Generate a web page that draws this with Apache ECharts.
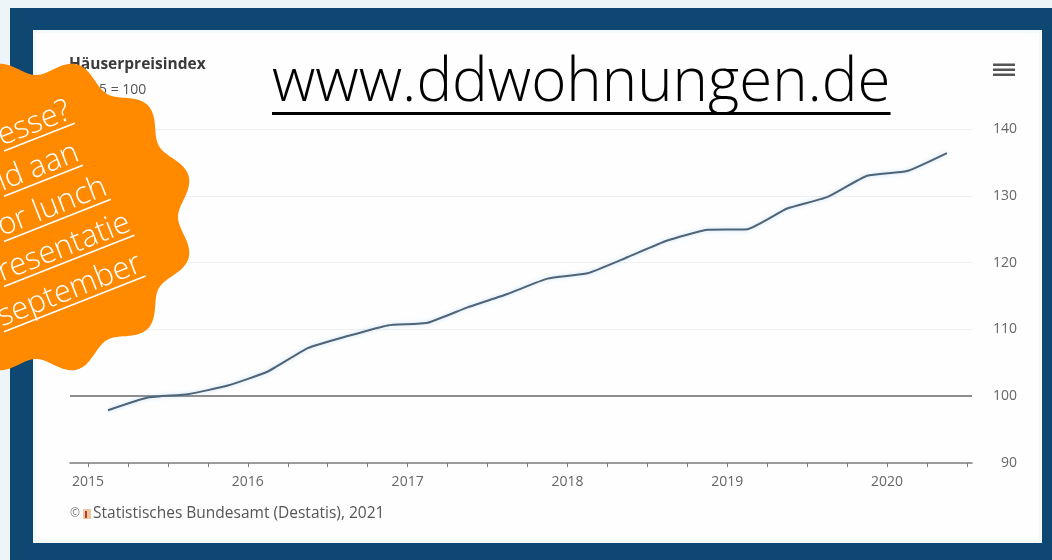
<!DOCTYPE html>
<html>
<head>
<meta charset="utf-8">
<script src="https://cdn.jsdelivr.net/npm/echarts@6/dist/echarts.min.js"></script>
<style>
html,body{margin:0;padding:0;background:#eef5f8;}
#chart{width:1052px;height:560px;}
</style>
</head>
<body>
<div id="chart"></div>
<script>
// ---------- data ----------
const periods = [
  '2015 Q1','2015 Q2','2015 Q3','2015 Q4',
  '2016 Q1','2016 Q2','2016 Q3','2016 Q4',
  '2017 Q1','2017 Q2','2017 Q3','2017 Q4',
  '2018 Q1','2018 Q2','2018 Q3','2018 Q4',
  '2019 Q1','2019 Q2','2019 Q3','2019 Q4',
  '2020 Q1','2020 Q2'
];
const houseIndex = [
  97.9, 99.8, 100.3, 101.6,
  103.7, 107.2, 109.0, 110.6,
  111.0, 113.3, 115.3, 117.6,
  118.4, 120.8, 123.3, 124.9,
  125.0, 128.1, 129.8, 133.0,
  133.7, 136.4
];
const yearLabels = [2015, 2016, 2017, 2018, 2019, 2020];
const yTickValues = [90, 100, 110, 120, 130, 140];
const baselineValue = 100;
const titleText = 'Häuserpreisindex';
const subtitleText = '2015 = 100';
const sourceText = 'Statistisches Bundesamt (Destatis), 2021';
const urlText = 'www.ddwohnungen.de';
const badgeLines = ['esse?', 'ld aan', 'or lunch', 'resentatie', 'september'];

// ---------- helpers ----------
const FONT = '"Open Sans", "Noto Sans", sans-serif';
function periodToX(p) {
  const parts = p.split(' Q');
  return Number(parts[0]) + (Number(parts[1]) - 0.5) / 4;
}
const seriesData = periods.map((p, i) => [periodToX(p), houseIndex[i]]);
const quarterTicks = [];
for (let y = yearLabels[0]; y <= yearLabels[yearLabels.length - 1]; y++) {
  for (let q = 0; q < 4; q++) {
    const v = y + q / 4;
    if (v <= 2020.5) quarterTicks.push(v);
  }
}

const measureCtx = document.createElement('canvas').getContext('2d');
function textWidth(str, font) { measureCtx.font = font; return measureCtx.measureText(str).width; }

// badge (decorative scalloped circle)
const badgeCx = 36, badgeCy = 217, badgeR = 150, badgeA = 8, badgeN = 12, badgePhase = 15 * Math.PI / 180;
const badgePts = [];
for (let i = 0; i < 720; i++) {
  const t = i * Math.PI / 360;
  const r = badgeR + badgeA * Math.cos(badgeN * (t - badgePhase));
  badgePts.push([badgeCx + r * Math.cos(t), badgeCy + r * Math.sin(t)]);
}

const badgeAngle = 21.5 * Math.PI / 180;
const badgeFontSize = 31;
const badgeFont = '300 ' + badgeFontSize + 'px "Open Sans"';
const badgeStep = 45.2;
const badgeChildren = [];
badgeLines.forEach((line, k) => {
  const d = badgeStep * k;
  const lx = -d * Math.sin(badgeAngle);
  const ly = d * Math.cos(badgeAngle);
  const w = textWidth(line, badgeFont);
  badgeChildren.push({
    type: 'text', x: lx, y: ly + 1,
    style: { text: line, fill: '#ffffff', font: badgeFont, textAlign: 'left', textVerticalAlign: 'bottom' }
  });
  badgeChildren.push({
    type: 'line', shape: { x1: lx, y1: ly, x2: lx + w, y2: ly },
    style: { stroke: '#ffffff', lineWidth: 1.6 }
  });
});

const urlFontSize = 60;
const urlFont = '300 ' + urlFontSize + 'px "Open Sans"';
const urlX = 272;
const urlW = textWidth(urlText, urlFont);

const chart = echarts.init(document.getElementById('chart'), null, { renderer: 'canvas' });
chart.setOption({
  animation: false,
  backgroundColor: '#eef5f8',
  grid: { left: 70, right: 80, top: 129, bottom: 97, containLabel: false },
  xAxis: {
    type: 'value',
    min: 2014.887,
    max: 2020.532,
    axisLine: { show: true, onZero: false, lineStyle: { color: '#7d7d7d', width: 1.5 } },
    axisTick: { show: true, customValues: quarterTicks, length: 4, lineStyle: { color: '#7d7d7d', width: 1 } },
    axisLabel: {
      customValues: yearLabels,
      formatter: v => String(Math.round(v)),
      color: '#666', fontSize: 14, margin: 12, fontFamily: FONT
    },
    splitLine: { show: false }
  },
  yAxis: {
    type: 'value',
    position: 'right',
    min: yTickValues[0],
    max: yTickValues[yTickValues.length - 1],
    interval: 10,
    axisLine: { show: false },
    axisTick: { show: false },
    axisLabel: { color: '#666', fontSize: 14, margin: 45, align: 'right', fontFamily: FONT },
    splitLine: { show: true, lineStyle: { color: '#f0f0f0', width: 1 } }
  },
  series: [{
    type: 'line',
    data: seriesData,
    symbol: 'none',
    showSymbol: false,
    smooth: 0.15,
    z: 4,
    lineStyle: { color: '#4f6379', width: 2, shadowColor: 'rgba(120,185,225,0.45)', shadowBlur: 4 },
    markLine: {
      silent: true,
      symbol: 'none',
      label: { show: false },
      lineStyle: { color: '#8d8d8d', width: 2, type: 'solid' },
      data: [{ yAxis: baselineValue }],
      z: 3
    }
  }],
  graphic: [
    { type: 'rect', silent: true, z: -100, shape: { x: 10, y: 8, width: 1042, height: 552 }, style: { fill: '#0f4773' } },
    { type: 'rect', silent: true, z: -99, shape: { x: 33, y: 30, width: 1009, height: 513 }, style: { fill: '#f4fafc' } },
    { type: 'rect', silent: true, z: -98, shape: { x: 36, y: 33, width: 1003, height: 507 }, style: { fill: '#fefefe' } },
    { type: 'text', silent: true, z: 10, x: 69, y: 57,
      style: { text: titleText, font: 'bold 15.5px ' + FONT, fill: '#3a3a3a', textVerticalAlign: 'top' } },
    { type: 'text', silent: true, z: 10, x: 75, y: 83,
      style: { text: subtitleText, font: '14px ' + FONT, fill: '#555', textVerticalAlign: 'top' } },
    // hamburger menu icon
    { type: 'rect', silent: true, z: 10, shape: { x: 993, y: 63.5, width: 22, height: 2.5 }, style: { fill: '#555' } },
    { type: 'rect', silent: true, z: 10, shape: { x: 993, y: 68.5, width: 22, height: 2.5 }, style: { fill: '#555' } },
    { type: 'rect', silent: true, z: 10, shape: { x: 993, y: 73.5, width: 22, height: 2.5 }, style: { fill: '#555' } },
    // footer
    { type: 'text', silent: true, z: 10, x: 70, y: 514,
      style: { text: '©', font: '12px ' + FONT, fill: '#777', textVerticalAlign: 'middle' } },
    { type: 'rect', silent: true, z: 10, shape: { x: 83, y: 509, width: 8, height: 10 }, style: { fill: '#e9c9a3' } },
    { type: 'rect', silent: true, z: 11, shape: { x: 85, y: 511, width: 2, height: 7 }, style: { fill: '#c0392b' } },
    { type: 'text', silent: true, z: 10, x: 93, y: 514,
      style: { text: sourceText, font: '15.5px ' + FONT, fill: '#555', textVerticalAlign: 'middle' } },
    // URL overlay
    { type: 'text', silent: true, z: 100, x: urlX, y: 114,
      style: { text: urlText, font: urlFont, fill: '#000', textVerticalAlign: 'bottom' } },
    { type: 'rect', silent: true, z: 100, shape: { x: urlX, y: 112, width: urlW, height: 3 }, style: { fill: '#000' } },
    // badge
    { type: 'polygon', silent: true, z: 100, shape: { points: badgePts }, style: { fill: '#ff8a00' } },
    { type: 'group', silent: true, z: 101, x: 4, y: 151, rotation: badgeAngle, children: badgeChildren.map(c => Object.assign({ z: 101 }, c)) }
  ]
});
</script>
</body>
</html>
